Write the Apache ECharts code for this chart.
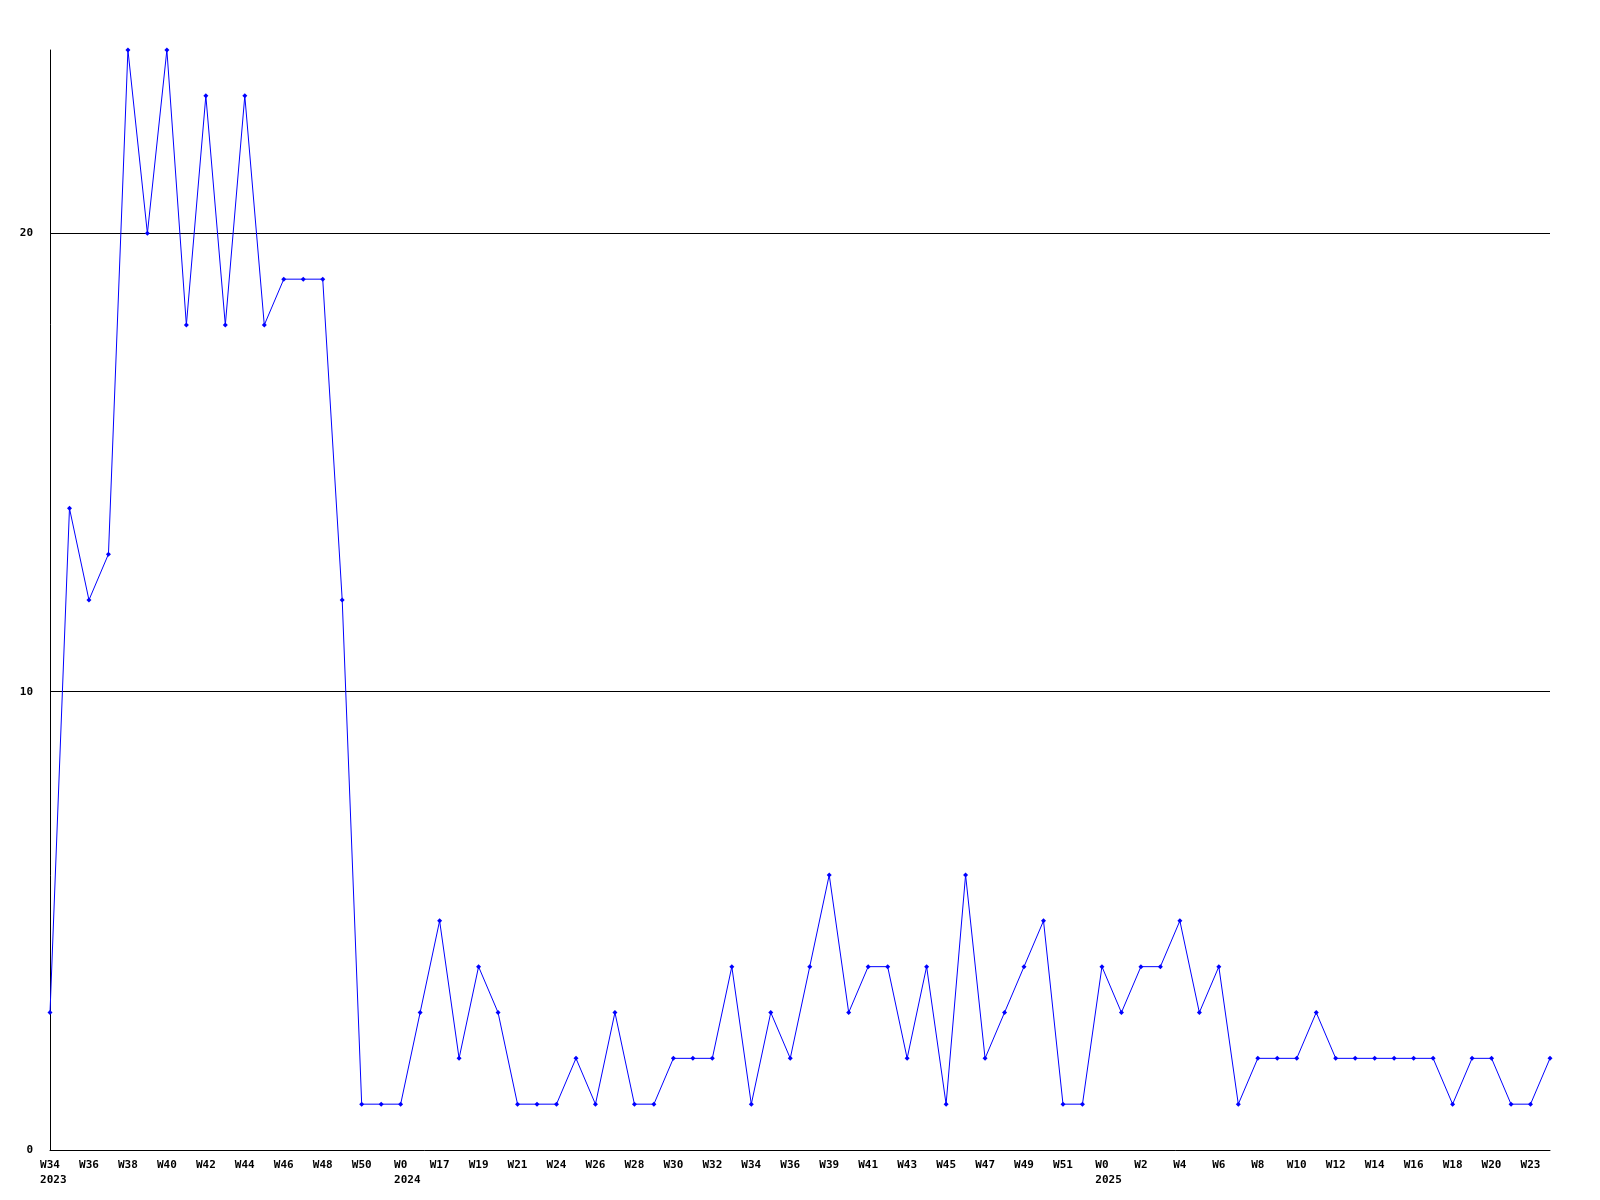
<!DOCTYPE html>
<html>
<head>
<meta charset="utf-8">
<script src="https://cdn.jsdelivr.net/npm/echarts@6/dist/echarts.min.js"></script>
<style>
html,body{margin:0;padding:0;background:#fff;}
#chart{width:1600px;height:1200px;}
</style>
</head>
<body>
<div id="chart"></div>
<script>
const weeks = [
  'W34','W35','W36','W37','W38','W39','W40','W41','W42','W43','W44','W45','W46','W47','W48','W49','W50','W51',
  'W0','W16','W17','W18','W19','W20','W21','W23','W24','W25','W26','W27','W28','W29','W30','W31','W32','W33',
  'W34','W35','W36','W38','W39','W40','W41','W42','W43','W44','W45','W46','W47','W48','W49','W50','W51','W52',
  'W0','W1','W2','W3','W4','W5','W6','W7','W8','W9','W10','W11','W12','W13','W14','W15','W16','W17','W18','W19',
  'W20','W22','W23','W24'
];
const yearMarks = { 0: '2023', 18: '2024', 54: '2025' };
const values = [
  3,14,12,13,24,20,24,18,23,18,23,18,19,19,19,12,1,1,
  1,3,5,2,4,3,1,1,1,2,1,3,1,1,2,2,2,4,
  1,3,2,4,6,3,4,4,2,4,1,6,2,3,4,5,1,1,
  4,3,4,4,5,3,4,1,2,2,2,3,2,2,2,2,2,2,1,2,
  2,1,1,2
];
const yTicks = { min: 0, max: 24, interval: 10 };

const font = 'DejaVu Sans Mono';
const charW = 6.62;
const baseText = { color: '#000', fontFamily: font, fontWeight: 'bold', fontSize: 11, lineHeight: 15 };
const chart = echarts.init(document.getElementById('chart'));
chart.setOption({
  animation: false,
  backgroundColor: '#ffffff',
  grid: { left: 50, right: 50, top: 50, bottom: 50, containLabel: false },
  xAxis: {
    type: 'category',
    data: weeks,
    boundaryGap: false,
    axisLine: { show: true, lineStyle: { color: '#000', width: 1 } },
    axisTick: { show: false },
    splitLine: { show: false },
    axisLabel: Object.assign({
      interval: 1,
      margin: 8,
      formatter: function (v, i) {
        return yearMarks[i] ? '{w|' + v + '}\n{y' + v.length + '|' + yearMarks[i] + '}' : v;
      },
      rich: {
        w: Object.assign({ align: 'left' }, baseText),
        y2: Object.assign({ align: 'left', width: 2 * charW }, baseText),
        y3: Object.assign({ align: 'left', width: 3 * charW }, baseText)
      }
    }, baseText)
  },
  yAxis: {
    type: 'value',
    min: yTicks.min,
    max: yTicks.max,
    interval: yTicks.interval,
    axisLine: { show: true, lineStyle: { color: '#000', width: 1 } },
    axisTick: { show: false },
    splitLine: { show: true, showMinLine: false, showMaxLine: false, lineStyle: { color: '#000', width: 1 } },
    axisLabel: {
      showMaxLabel: false,
      margin: 17,
      color: '#000',
      fontFamily: font,
      fontWeight: 'bold',
      fontSize: 11
    }
  },
  series: [{
    type: 'line',
    data: values,
    symbol: 'diamond',
    symbolSize: 5,
    showAllSymbol: true,
    lineStyle: { color: '#0000ff', width: 1 },
    itemStyle: { color: '#0000ff' },
    emphasis: { disabled: true }
  }]
});
</script>
</body>
</html>
